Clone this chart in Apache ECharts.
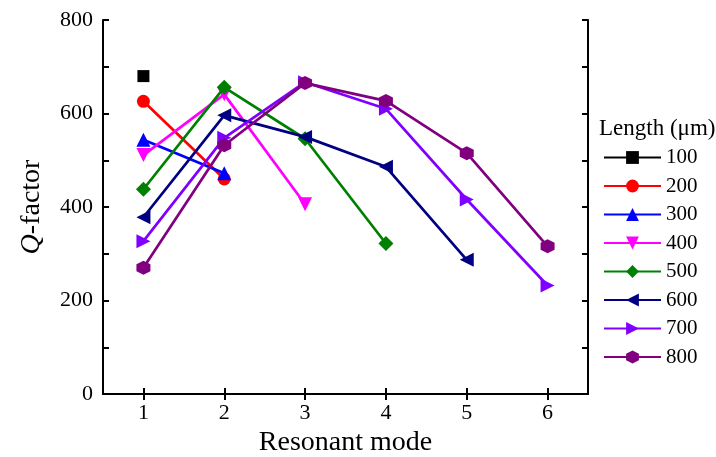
<!DOCTYPE html>
<html>
<head>
<meta charset="utf-8">
<script src="https://cdn.jsdelivr.net/npm/echarts@6/dist/echarts.min.js"></script>
<style>
  html, body { margin: 0; padding: 0; background: #fff; }
  #chart { width: 716px; height: 457px; }
</style>
</head>
<body>
<div id="chart"></div>
<script>
const modes = ["1", "2", "3", "4", "5", "6"];
const lengths = ["100", "200", "300", "400", "500", "600", "700", "800"];

// Q-factor per resonant mode, one array per cavity length (null = no mode)
const q100 = [680, null, null, null, null, null];
const q200 = [626, 460, null, null, null, null];
const q300 = [544, 472, null, null, null, null];
const q400 = [511, 641, 406, null, null, null];
const q500 = [438, 656, 546, 322, null, null];
const q600 = [378, 596, 550, 486, 287, null];
const q700 = [327, 548, 667, 610, 416, 232];
const q800 = [270, 532, 665, 627, 515, 316];

const colors = ["#000000", "#ff0000", "#0000ff", "#ff00ff", "#008000", "#000080", "#8000ff", "#800080"];
const hexagon = "path://M0,-1 L0.866,-0.5 L0.866,0.5 L0,1 L-0.866,0.5 L-0.866,-0.5 Z";
const symbols = ["rect", "circle", "triangle", "triangle", "diamond", "triangle", "triangle", hexagon];
const rotations = [0, 0, 0, 180, 0, 90, -90, 0];
const sizes = [12, 13, 14, 14, 15, 14, 14, 14];
const values = [q100, q200, q300, q400, q500, q600, q700, q800];

const font = "'Liberation Serif', 'Times New Roman', serif";
const chart = echarts.init(document.getElementById("chart"));

const axisLine = { show: true, lineStyle: { color: "#000", width: 2 } };
const tick = { show: true, inside: true, length: 6, lineStyle: { color: "#000", width: 2 } };

chart.setOption({
  animation: false,
  grid: { left: 103, right: 128, top: 20, bottom: 63, outerBoundsMode: "none", containLabel: false },
  title: {
    text: "Length (\u03bcm)",
    left: 594, top: 112,
    textStyle: { fontFamily: font, fontSize: 23, fontWeight: "normal", color: "#000" }
  },
  legend: {
    data: lengths,
    orient: "vertical",
    left: 598, top: 142,
    itemWidth: 57, itemHeight: 16, itemGap: 7.5,
    textStyle: { fontFamily: font, fontSize: 21, lineHeight: 21, color: "#000" }
  },
  xAxis: [
    {
      type: "category", data: modes, boundaryGap: true,
      name: "Resonant mode", nameLocation: "middle", nameGap: 29,
      nameTextStyle: { fontFamily: font, fontSize: 28, color: "#000" },
      axisLine: axisLine,
      axisTick: Object.assign({ alignWithLabel: true }, tick),
      axisLabel: { fontFamily: font, fontSize: 22, color: "#000", margin: 8 },
      splitLine: { show: false }
    },
    {
      type: "category", data: modes, boundaryGap: true, position: "top",
      axisLine: axisLine,
      axisTick: Object.assign({ alignWithLabel: true }, tick),
      axisLabel: { show: false },
      splitLine: { show: false }
    }
  ],
  yAxis: [
    {
      type: "value", min: 0, max: 800, interval: 100,
      name: "{q|Q}-factor", nameLocation: "middle", nameGap: 57, nameRotate: 90,
      nameTextStyle: {
        fontFamily: font, fontSize: 28, color: "#000",
        rich: { q: { fontFamily: font, fontSize: 28, fontStyle: "italic", color: "#000" } }
      },
      axisLine: axisLine, axisTick: tick,
      axisLabel: {
        fontFamily: font, fontSize: 22, color: "#000", margin: 10,
        formatter: v => (v % 200 === 0 ? String(v) : "")
      },
      splitLine: { show: false }
    },
    {
      type: "value", min: 0, max: 800, interval: 100, position: "right",
      axisLine: axisLine, axisTick: tick,
      axisLabel: { show: false },
      splitLine: { show: false }
    }
  ],
  series: lengths.map((name, i) => ({
    name: name,
    type: "line",
    data: values[i],
    connectNulls: false,
    symbol: symbols[i],
    symbolRotate: rotations[i],
    symbolSize: sizes[i],
    showAllSymbol: true,
    lineStyle: { color: colors[i], width: 2.7 },
    itemStyle: { color: colors[i] },
    z: 2 + i
  }))
});
</script>
</body>
</html>
